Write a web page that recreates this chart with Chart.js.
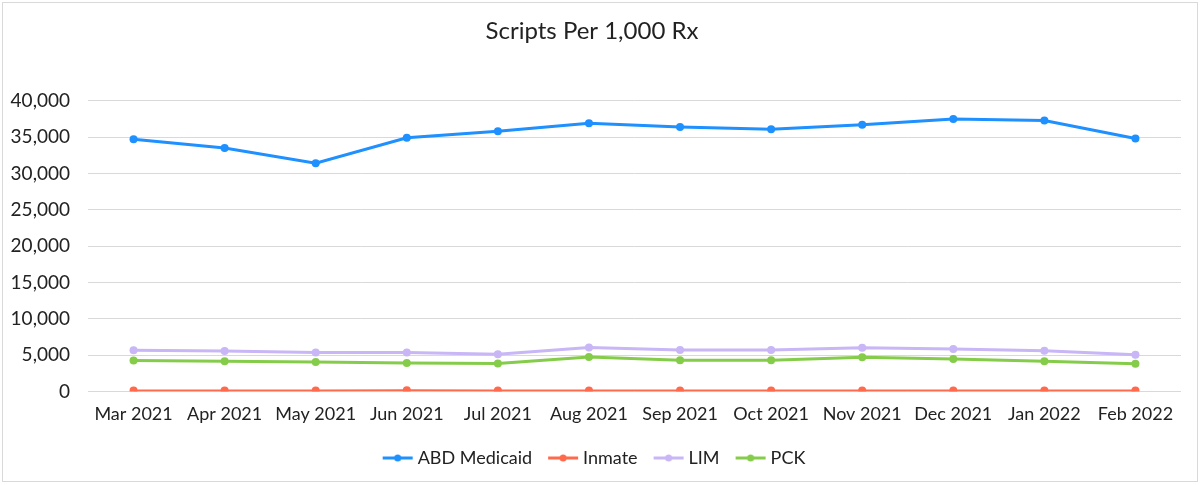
<!DOCTYPE html>
<html>
<head>
<meta charset="utf-8">
<script src="https://cdn.jsdelivr.net/npm/chart.js@4/dist/chart.umd.min.js"></script>
<style>
  html, body { margin: 0; padding: 0; background: #fff; }
  .wrap { position: absolute; left: 2px; top: 2px; width: 1194px; height: 478px; border: 1px solid #d9d9d9; }
  #line-chart { display: block; }
</style>
</head>
<body>
<div class="wrap">
  <canvas id="line-chart" width="1194" height="478" aria-label="line chart" role="img"></canvas>
</div>
<script>
let months = ['Mar 2021', 'Apr 2021', 'May 2021', 'Jun 2021', 'Jul 2021', 'Aug 2021',
  'Sep 2021', 'Oct 2021', 'Nov 2021', 'Dec 2021', 'Jan 2022', 'Feb 2022'];

let abdMedicaid = [34700, 33500, 31400, 34900, 35800, 36900, 36400, 36100, 36700, 37500, 37300, 34800];
let inmate = [120, 130, 120, 160, 130, 130, 130, 130, 130, 130, 130, 130];
let lim = [5650, 5550, 5350, 5350, 5100, 6050, 5700, 5700, 6000, 5850, 5600, 5050];
let pck = [4250, 4150, 4050, 3900, 3850, 4750, 4300, 4300, 4700, 4450, 4150, 3800];

let seriesNames = ['ABD Medicaid', 'Inmate', 'LIM', 'PCK'];
let lineColors = ['#1e90ff', '#ff6a4d', '#c8b6f6', '#86cc4b'];
let lineWidths = [3, 2, 3, 3];

let fontName = 'Lato, "Noto Sans", sans-serif';

// little line-with-dot picture for the legend
let legendMark = (color) => {
  let c = document.createElement('canvas');
  c.width = 40; c.height = 10;
  let g = c.getContext('2d');
  g.strokeStyle = color;
  g.lineWidth = 3;
  g.beginPath(); g.moveTo(9, 5); g.lineTo(39, 5); g.stroke();
  g.fillStyle = color;
  g.beginPath(); g.arc(24, 5, 3.5, 0, Math.PI * 2); g.fill();
  return c;
};

let datasets = [abdMedicaid, inmate, lim, pck].map((values, i) => ({
  label: seriesNames[i],
  data: values,
  borderColor: lineColors[i],
  backgroundColor: lineColors[i],
  borderWidth: lineWidths[i],
  pointRadius: 4,
  pointHoverRadius: 4,
  pointBorderWidth: 0,
  tension: 0,
}));

new Chart(document.getElementById('line-chart'), {
  type: 'line',
  data: { labels: months, datasets: datasets },
  options: {
    responsive: false,
    animation: false,
    layout: { padding: { left: 0, right: 16, top: 8, bottom: 4 } },
    plugins: {
      title: {
        display: true,
        text: 'Scripts Per 1,000 Rx',
        color: '#222',
        font: { family: fontName, size: 24, weight: 'normal' },
        padding: { top: 6, bottom: 55 },
      },
      legend: {
        position: 'bottom',
        labels: {
          color: '#222',
          font: { family: fontName, size: 18 },
          usePointStyle: true,
          pointStyleWidth: 30,
          padding: 12,
          generateLabels: (chart) => chart.data.datasets.map((ds, i) => ({
            text: ds.label,
            fontColor: '#222',
            pointStyle: legendMark(ds.borderColor),
            strokeStyle: ds.borderColor,
            fillStyle: ds.borderColor,
            lineWidth: 0,
            datasetIndex: i,
          })),
        },
      },
      tooltip: { enabled: false },
    },
    scales: {
      x: {
        offset: true,
        grid: { display: false, drawTicks: false },
        border: { display: false },
        ticks: { color: '#222', font: { family: fontName, size: 18 }, padding: 12, maxRotation: 0 },
      },
      y: {
        min: 0,
        max: 40000,
        afterFit: (scale) => { scale.width = 85; },
        grid: { color: '#d9d9d9', lineWidth: 1, drawTicks: false },
        border: { display: false },
        ticks: {
          stepSize: 5000,
          color: '#222',
          font: { family: fontName, size: 19 },
          padding: 18,
          callback: (v) => v.toLocaleString('en-US'),
        },
      },
    },
  },
});
</script>
</body>
</html>
